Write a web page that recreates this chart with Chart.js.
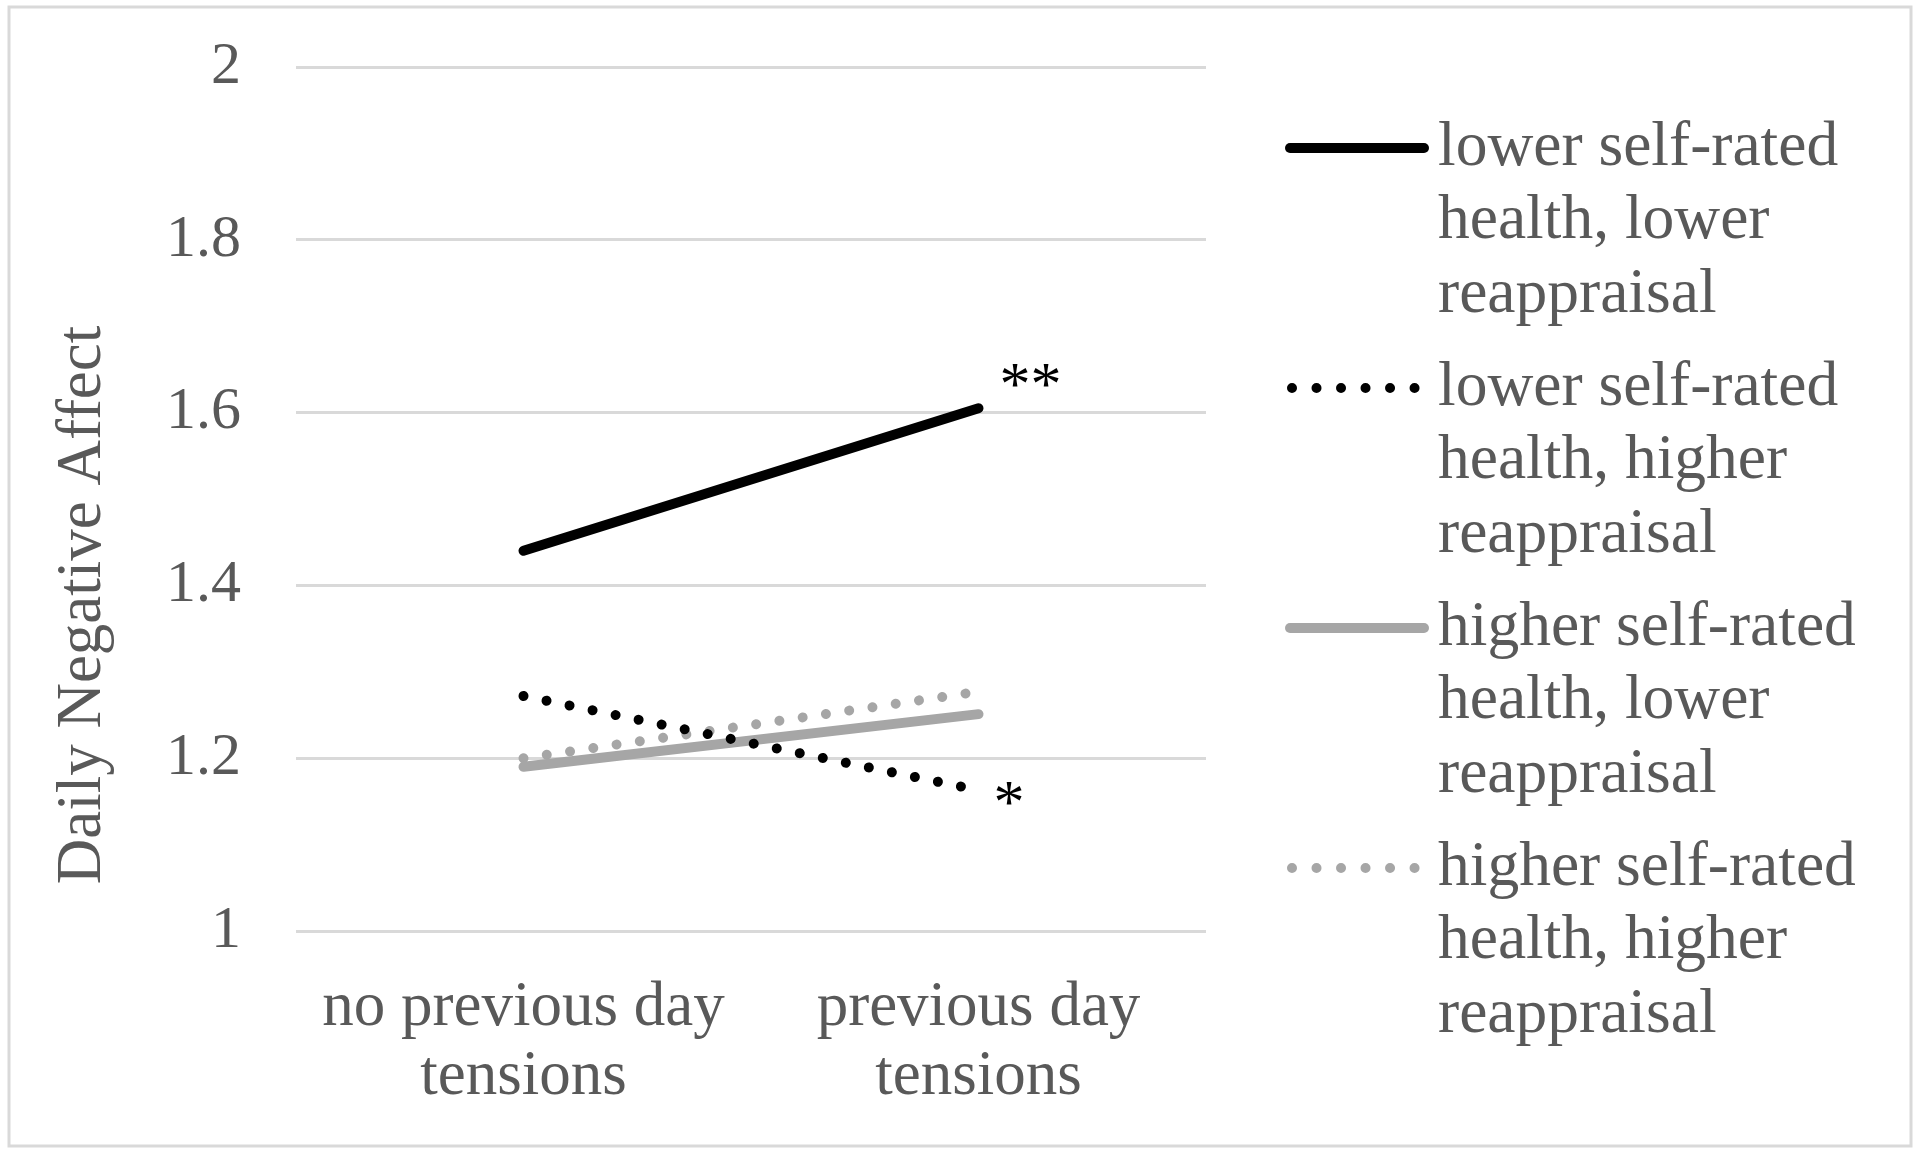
<!DOCTYPE html>
<html lang="en">
<head>
  <meta charset="UTF-8">
  <title>Daily Negative Affect</title>
  <script src="https://cdn.jsdelivr.net/npm/chart.js"></script>
  <style>
    body { margin: 0; background: #fff; }
    canvas { display: block; }
  </style>
</head>
<body>

<canvas id="naChart" width="1920" height="1152"></canvas>

<script>
// categories and series
const categories = [['no previous day', 'tensions'], ['previous day', 'tensions']];
const lowerHealthLowerReap = [1.44, 1.605];
const lowerHealthHigherReap = [1.272, 1.163];
const higherHealthLowerReap = [1.19, 1.251];
const higherHealthHigherReap = [1.20, 1.277];

const legendLabels = [
  ['lower self-rated', 'health, lower', 'reappraisal'],
  ['lower self-rated', 'health, higher', 'reappraisal'],
  ['higher self-rated', 'health, lower', 'reappraisal'],
  ['higher self-rated', 'health, higher', 'reappraisal']
];
const starMarks = ['**', '*', '', ''];
const yTitle = 'Daily Negative Affect';

const textGrey = '#595959';
const serif = '"Liberation Serif", "Times New Roman", serif';

// white page and thin grey frame
const framePlugin = {
  id: 'frame',
  beforeDraw: (chart) => {
    const ctx = chart.ctx;
    ctx.save();
    ctx.fillStyle = '#fff';
    ctx.fillRect(0, 0, chart.width, chart.height);
    ctx.strokeStyle = '#d9d9d9';
    ctx.lineWidth = 3;
    ctx.strokeRect(9, 7, chart.width - 18, chart.height - 13);
    ctx.restore();
  }
};

// y title, legend on the right with wrapped labels, significance stars
const sideLegend = {
  id: 'sideLegend',
  afterDraw: (chart) => {
    const ctx = chart.ctx;
    ctx.save();

    ctx.save();
    ctx.translate(83, 605);
    ctx.rotate(-Math.PI / 2);
    ctx.fillStyle = textGrey;
    ctx.font = '63px ' + serif;
    ctx.textAlign = 'center';
    ctx.textBaseline = 'middle';
    ctx.fillText(yTitle, 0, 0);
    ctx.restore();

    chart.data.datasets.forEach((ds, i) => {
      const y0 = 148 + i * 240;
      ctx.beginPath();
      ctx.strokeStyle = ds.borderColor;
      ctx.lineWidth = ds.borderWidth;
      ctx.lineCap = 'round';
      ctx.setLineDash(ds.borderDash ? [0.01, 24.5] : []);
      ctx.moveTo(ds.borderDash ? 1292 : 1290, y0);
      ctx.lineTo(ds.borderDash ? 1418 : 1424, y0);
      ctx.stroke();
      ctx.setLineDash([]);

      ctx.fillStyle = textGrey;
      ctx.font = '63.5px ' + serif;
      ctx.textAlign = 'left';
      ctx.textBaseline = 'middle';
      legendLabels[i].forEach((line, k) => {
        ctx.fillText(line, 1438, y0 + k * 73.5);
      });

      if (starMarks[i]) {
        const pt = chart.getDatasetMeta(i).data[1];
        ctx.fillStyle = '#000';
        ctx.font = '62px ' + serif;
        ctx.textAlign = 'left';
        ctx.textBaseline = 'middle';
        const dy = i === 0 ? -21 : 16;
        ctx.fillText(starMarks[i], pt.x + (i === 0 ? 21 : 15), pt.y + dy);
      }
    });
    ctx.restore();
  }
};

function lineSet(label, data, color, dotted) {
  return {
    label: label,
    data: data,
    borderColor: color,
    backgroundColor: color,
    borderWidth: 10,
    borderCapStyle: 'round',
    borderDash: dotted ? [0.01, 23.5] : undefined,
    pointRadius: 0,
    pointHoverRadius: 0,
    tension: 0,
    fill: false
  };
}

const ctx = document.getElementById('naChart').getContext('2d');

const naChart = new Chart(ctx, {
  type: 'line',
  data: {
    labels: categories,
    datasets: [
      lineSet(legendLabels[0].join(' '), lowerHealthLowerReap, '#000000', false),
      lineSet(legendLabels[1].join(' '), lowerHealthHigherReap, '#000000', true),
      lineSet(legendLabels[2].join(' '), higherHealthLowerReap, '#a6a6a6', false),
      lineSet(legendLabels[3].join(' '), higherHealthHigherReap, '#a6a6a6', true)
    ]
  },
  options: {
    responsive: false,
    animation: false,
    devicePixelRatio: 1,
    layout: { padding: { left: 10, right: 714, top: 67, bottom: 0 } },
    plugins: {
      legend: { display: false },
      tooltip: { enabled: false }
    },
    scales: {
      x: {
        offset: true,
        grid: { display: false, drawTicks: false },
        border: { display: false },
        ticks: {
          color: textGrey,
          padding: 42,
          font: { family: serif, size: 63, lineHeight: 1.11 }
        },
        afterFit: (scale) => { scale.height = 221; }
      },
      y: {
        min: 1,
        max: 2,
        grid: { color: '#d9d9d9', lineWidth: 3, drawTicks: false },
        border: { display: false },
        ticks: {
          stepSize: 0.2,
          color: textGrey,
          padding: 55,
          font: { family: serif, size: 60 },
          callback: (v) => String(+v.toFixed(1))
        },
        afterFit: (scale) => {
          scale.width = 286;
          scale.paddingTop = 0;
          scale.paddingBottom = 0;
        }
      }
    }
  },
  plugins: [framePlugin, sideLegend]
});
</script>

</body>
</html>
